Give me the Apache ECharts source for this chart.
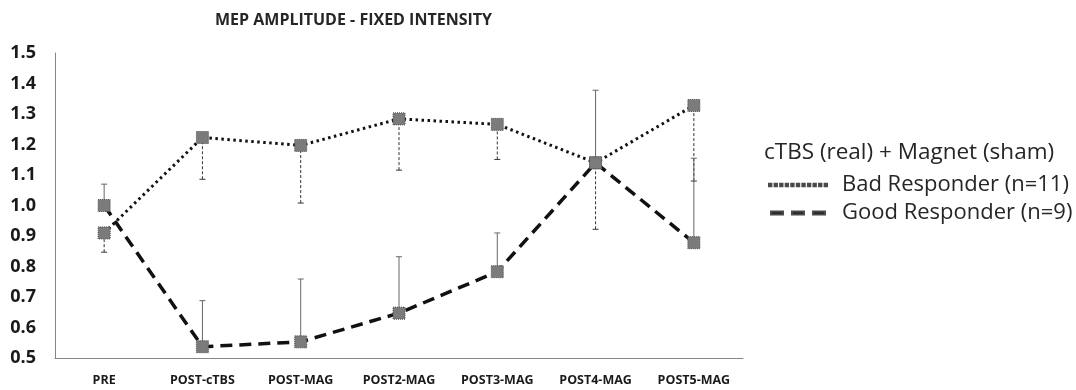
<!DOCTYPE html>
<html>
<head>
<meta charset="utf-8">
<script src="https://cdn.jsdelivr.net/npm/echarts@6/dist/echarts.min.js"></script>
<style>html,body{margin:0;padding:0;background:#fff}#c{width:1076px;height:390px}</style>
</head>
<body>
<div id="c"></div>
<script>
const categories = ['PRE','POST-cTBS','POST-MAG','POST2-MAG','POST3-MAG','POST4-MAG','POST5-MAG'];
const badMean = [0.91, 1.223, 1.197, 1.284, 1.266, 1.14, 1.328];
const badLow  = [0.847, 1.086, 1.008, 1.116, 1.151, 0.922, 1.08];
const goodMean = [1.0, 0.537, 0.553, 0.647, 0.783, 1.14, 0.878];
const goodHigh = [1.07, 0.688, 0.759, 0.832, 0.91, 1.378, 1.155];
const titleText = 'MEP AMPLITUDE - FIXED INTENSITY';
const legendHeader = 'cTBS (real) + Magnet (sham)';
const badName = 'Bad Responder (n=11)';
const goodName = 'Good Responder (n=9)';

const FONT = '"Open Sans", sans-serif';

function errSeries(name, lows, highs, dashed, capAtLow) {
  return {
    type: 'custom',
    name: name + '_err',
    z: 1,
    silent: true,
    data: categories.map((c, i) => [i, lows[i], highs[i]]),
    renderItem: function (params, api) {
      const p1 = api.coord([api.value(0), api.value(1)]);
      const p2 = api.coord([api.value(0), api.value(2)]);
      const capY = capAtLow ? p1[1] : p2[1];
      const col = dashed ? '#333' : '#666';
      return {
        type: 'group',
        children: [
          {type: 'line', shape: {x1: p1[0], y1: p1[1], x2: p2[0], y2: p2[1]}, style: {stroke: col, lineWidth: 1, lineDash: dashed ? [3, 2] : null}},
          {type: 'line', shape: {x1: p1[0] - 3, y1: capY, x2: p1[0] + 3, y2: capY}, style: {stroke: col, lineWidth: 1}}
        ]
      };
    }
  };
}

let dots = '';
for (let k = 0; k < 11; k++) { dots += 'M' + (k * 5.6) + ',0h2.4v2.4h-2.4z'; }

const chart = echarts.init(document.getElementById('c'), null, {renderer: 'canvas'});
const markerStyle = {color: '#7b7b7b', borderColor: '#4a4a4a', borderWidth: 1, borderType: 'dotted'};
chart.setOption({
  animation: false,
  backgroundColor: '#fff',
  title: [
    {text: titleText, left: 210, top: 7, textStyle: {fontFamily: FONT, fontWeight: 'bold', fontSize: 16, color: '#262626'}},
    {text: legendHeader, left: 759, top: 136, textStyle: {fontFamily: FONT, fontWeight: 'normal', fontSize: 22.5, color: '#262626'}}
  ],
  legend: {
    orient: 'vertical',
    left: 763,
    top: 169,
    itemGap: 6,
    itemWidth: 58,
    itemHeight: 3,
    textStyle: {fontFamily: FONT, fontSize: 22, color: '#262626', padding: [0, 0, 0, 10]},
    data: [
      {name: badName, icon: 'path://' + dots, itemStyle: {color: '#111'}},
      {name: goodName, icon: 'path://M0,0h12v3h-12zM21,0h12v3h-12zM42,0h12v3h-12z', itemStyle: {color: '#111'}}
    ]
  },
  grid: {left: 55, right: 333, top: 53, bottom: 32, containLabel: false},
  xAxis: {
    type: 'category',
    data: categories,
    boundaryGap: true,
    axisLine: {lineStyle: {color: '#868686', width: 1}},
    axisTick: {show: false},
    axisLabel: {fontFamily: FONT, fontWeight: 'bold', fontSize: 12.5, color: '#1a1a1a', margin: 16, interval: 0}
  },
  yAxis: {
    type: 'value',
    min: 0.5, max: 1.5, interval: 0.1,
    axisLine: {show: true, lineStyle: {color: '#868686', width: 1}},
    axisTick: {show: false},
    splitLine: {show: false},
    axisLabel: {fontFamily: FONT, fontWeight: 'bold', fontSize: 18, color: '#1a1a1a', margin: 19, formatter: v => v.toFixed(1)}
  },
  series: [
    errSeries('bad', badLow, badMean, true, true),
    errSeries('good', goodMean, goodHigh, false, false),
    {
      name: badName, type: 'line', data: badMean, z: 3,
      symbol: 'rect', symbolSize: 12,
      lineStyle: {color: '#111', width: 3, type: [2.5, 3.5]},
      itemStyle: markerStyle
    },
    {
      name: goodName, type: 'line', data: goodMean, z: 3,
      symbol: 'rect', symbolSize: 12,
      lineStyle: {color: '#111', width: 3.5, type: [12, 7]},
      itemStyle: markerStyle
    }
  ]
});
</script>
</body>
</html>
